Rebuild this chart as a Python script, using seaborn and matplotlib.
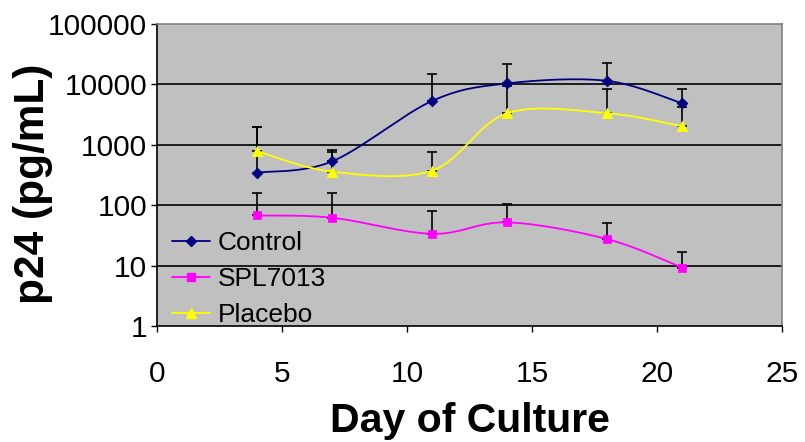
import numpy as np
import pandas as pd
import matplotlib
matplotlib.use("Agg")
import matplotlib.pyplot as plt
import seaborn as sns
from matplotlib.lines import Line2D
from matplotlib.ticker import FixedLocator, NullLocator

days = [4, 7, 11, 14, 18, 21]
control = [346, 531, 5310, 10380, 11460, 4860]
control_upper = [1950, 834, 14960, 21600, 22700, 8470]
spl7013 = [67.6, 62, 33.6, 51.9, 27.5, 9.3]
spl7013_upper = [160, 160, 79.6, 104, 50, 17]
placebo = [785, 359, 373, 3330, 3330, 2030]
placebo_upper = [1950, 755, 767, 9500, 8470, 4300]

series_names = ["Control", "SPL7013", "Placebo"]
colors = {"Control": "#000080", "SPL7013": "#FF00FF", "Placebo": "#FFFF00"}
markers = {"Control": "D", "SPL7013": "s", "Placebo": "^"}
msizes = {"Control": 5.5, "SPL7013": 5.8, "Placebo": 7.5}
y_ticks = [1, 10, 100, 1000, 10000, 100000]
x_ticks = [0, 5, 10, 15, 20, 25]


def smooth(x, y, n=40):
    """Excel-style smoothed line (Bezier with tension 1/6) in (x, log y)."""
    P = np.column_stack([np.asarray(x, float), np.log10(np.asarray(y, float))])
    out = []
    for i in range(len(P) - 1):
        p0 = P[i - 1] if i > 0 else P[i]
        p1 = P[i]
        p2 = P[i + 1]
        p3 = P[i + 2] if i + 2 < len(P) else P[i + 1]
        c1 = p1 + (p2 - p0) / 6
        c2 = p2 - (p3 - p1) / 6
        t = np.linspace(0, 1, n)[:, None]
        seg = (1 - t) ** 3 * p1 + 3 * (1 - t) ** 2 * t * c1 + 3 * (1 - t) * t ** 2 * c2 + t ** 3 * p2
        out.append(seg if i == 0 else seg[1:])
    s = np.vstack(out)
    return s[:, 0], 10 ** s[:, 1]


sns.set_theme(style="white")
plt.rcParams["font.family"] = ["Liberation Sans", "DejaVu Sans"]
plt.rcParams["text.color"] = "black"
plt.rcParams["axes.labelcolor"] = "black"

fig = plt.figure(figsize=(8.05, 4.42), dpi=100)
ax = fig.add_axes([157 / 805, 1 - 326 / 442, (782 - 157) / 805, (326 - 24) / 442])
ax.set_facecolor("#C0C0C0")

data = {"Control": (control, control_upper),
        "SPL7013": (spl7013, spl7013_upper),
        "Placebo": (placebo, placebo_upper)}

ax.set_yscale("log")

for name in series_names:
    vals, upper = data[name]
    vals = np.asarray(vals, float)
    upper = np.asarray(upper, float)
    ax.errorbar(days, vals, yerr=[np.zeros_like(vals), upper - vals], fmt="none",
                ecolor="black", elinewidth=1.2, capsize=3.6, capthick=1.2, zorder=3)

for name in series_names:
    vals, _ = data[name]
    sx, sy = smooth(days, vals)
    df = pd.DataFrame({"x": sx, "y": sy})
    sns.lineplot(data=df, x="x", y="y", ax=ax, color=colors[name], lw=1.3,
                 estimator=None, sort=False, zorder=4)
    mdf = pd.DataFrame({"x": days, "y": vals})
    sns.scatterplot(data=mdf, x="x", y="y", ax=ax, color=colors[name],
                    marker=markers[name], s=msizes[name] ** 2, edgecolor=colors[name],
                    linewidth=0.5, zorder=5)

ax.set_xlim(0, 25)
ax.set_ylim(1, 100000)
ax.yaxis.set_major_locator(FixedLocator(y_ticks))
ax.yaxis.set_minor_locator(NullLocator())
ax.set_yticklabels([str(v) for v in y_ticks])
ax.set_xticks(x_ticks)
ax.set_xticklabels([str(v) for v in x_ticks])
ax.tick_params(axis="both", direction="out", length=4.5, width=1, color="black",
               labelsize=21.5, labelcolor="black", left=True, bottom=True)
ax.tick_params(axis="y", pad=2.5)
ax.tick_params(axis="x", pad=20)

ax.grid(False)
for v in y_ticks[1:-1]:
    ax.axhline(v, color="black", lw=1.2, zorder=1)

ax.spines["left"].set_color("black")
ax.spines["bottom"].set_color("black")
ax.spines["top"].set_color("#808080")
ax.spines["right"].set_color("#808080")
for sp in ax.spines.values():
    sp.set_linewidth(1.2)
    sp.set_visible(True)

ax.set_xlabel("Day of Culture", fontsize=29.5, fontweight="bold", color="black")
ax.set_ylabel("p24 (pg/mL)", fontsize=30.5, fontweight="bold", color="black")
ax.xaxis.set_label_coords(0.5, -0.25)
ax.yaxis.set_label_coords(-0.166, 0.47)

handles = [Line2D([0], [0], color=colors[n], lw=1.3, marker=markers[n],
                  markersize=msizes[n], markeredgecolor=colors[n]) for n in series_names]
leg = ax.legend(handles, series_names, loc="lower left", bbox_to_anchor=(-0.0096, -0.073),
                frameon=False, fontsize=19, handlelength=1.45, handletextpad=0.28,
                labelspacing=0.45, borderaxespad=0.5, borderpad=0.3)
for t in leg.get_texts():
    t.set_color("black")

fig.savefig("out.png", dpi=100)
